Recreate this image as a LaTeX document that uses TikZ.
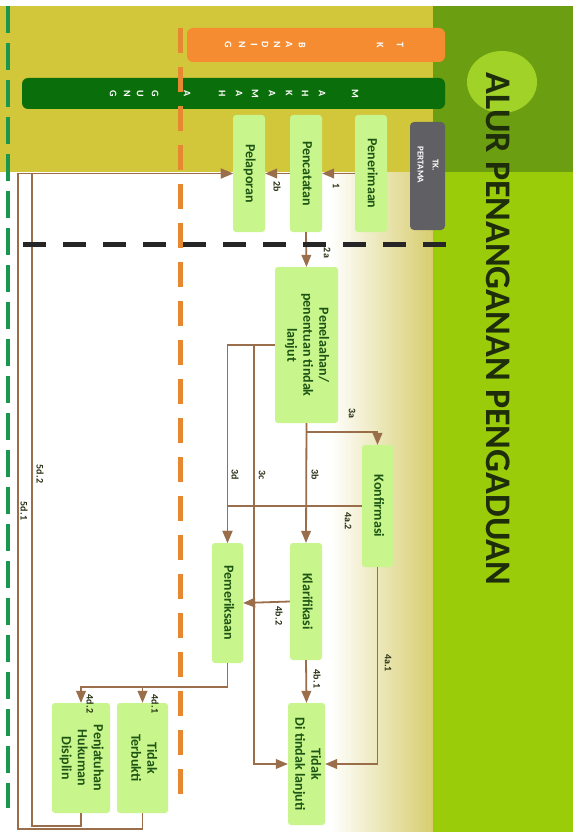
\documentclass[tikz,border=0pt]{standalone}
\usepackage{fontspec}
\setmainfont{Carlito}
\usepackage{graphicx}
\usetikzlibrary{arrows}

\definecolor{topband}{RGB}{210,198,58}
\definecolor{gradend}{RGB}{215,205,110}
\definecolor{darkband}{RGB}{108,158,18}
\definecolor{limeband}{RGB}{155,204,10}
\definecolor{glow}{RGB}{160,210,40}
\definecolor{barorange}{RGB}{245,140,50}
\definecolor{bargreen}{RGB}{10,110,10}
\definecolor{greybox}{RGB}{95,95,100}
\definecolor{boxgreen}{RGB}{200,245,140}
\definecolor{boxtext}{RGB}{30,85,20}
\definecolor{lbltext}{RGB}{40,50,20}
\definecolor{titletext}{RGB}{30,45,10}
\definecolor{brownline}{RGB}{155,110,75}
\definecolor{dashgreen}{RGB}{25,150,80}
\definecolor{dashorange}{RGB}{230,135,50}

\newcommand{\vtx}[1]{\rotatebox{-90}{\begin{tabular}{@{}c@{}}#1\end{tabular}}}

\begin{document}
\begin{tikzpicture}[x=1pt,y=-1pt,
  stepbox/.style={fill=boxgreen, rounded corners=3pt, inner sep=0pt, text=boxtext,
    font=\fontsize{14}{16}\selectfont\bfseries},
  link/.style={draw=brownline, line width=1.8pt, -triangle 45},
  lbl/.style={rotate=-90, inner sep=0pt, text=lbltext, font=\fontsize{10}{12}\selectfont\bfseries},
  letter/.style={rotate=-90, inner sep=0pt, text=white, font=\fontsize{10}{12}\selectfont\bfseries}]
\useasboundingbox (0,0) rectangle (582,832);

% background
\fill[white] (0,0) rectangle (582,832);
\fill[topband] (0,6) rectangle (433,172);
\shade[left color=white, right color=gradend] (330,172) rectangle (433,832);
\fill[darkband] (433,6) rectangle (573,172);
\fill[limeband] (433,172) rectangle (573,832);
\fill[glow] (502,82) ellipse (35pt and 31pt);
\node[rotate=-90, text=titletext, font=\fontsize{36}{40}\selectfont\bfseries] (title) at (498,329) {ALUR PENANGANAN PENGADUAN};

% levels
\node[fill=barorange, rounded corners=6pt, minimum width=258pt, minimum height=34pt, inner sep=0pt] (banding) at (316,45) {};
\foreach \c/\x in {T/400,K/380,B/302,A/289,N/277,D/265,I/254,N/242,G/228}
  \node[letter] (o\x) at (\x,45) {\c};
\node[fill=bargreen, rounded corners=6pt, minimum width=423pt, minimum height=31pt, inner sep=0pt] (agung) at (233.5,93.5) {};
\foreach \c/\x in {M/355,A/322,H/305,K/289,A/272,M/255,A/239,H/222,A/187,G/155,U/140,N/127,G/113}
  \node[letter] (g\x) at (\x,93.5) {\c};
\node[fill=greybox, rounded corners=4pt, minimum width=35pt, minimum height=108pt, inner sep=0pt] (tkp) at (427.5,176) {};
\node[text=white, inner sep=0pt, font=\fontsize{9}{10}\selectfont\bfseries] (tkpt) at (427,165) {\vtx{TK.\\[5pt]PERTAMA}};

% steps
\node[stepbox, minimum width=32pt, minimum height=117pt] (pener) at (371,173.5) {\vtx{Penerimaan}};
\node[stepbox, minimum width=32pt, minimum height=117pt] (pencat) at (306,173.5) {\vtx{Pencatatan}};
\node[stepbox, minimum width=32pt, minimum height=117pt] (pelap) at (249,173.5) {\vtx{Pelaporan}};
\node[stepbox, minimum width=63pt, minimum height=156pt] (penel) at (306.5,345) {\vtx{Penelaahan/\\penentuan tindak\\lanjut}};
\node[stepbox, minimum width=31pt, minimum height=122pt] (konf) at (377.5,506) {\vtx{Konfirmasi}};
\node[stepbox, minimum width=32pt, minimum height=117pt] (klar) at (306,601.5) {\vtx{Klarifikasi}};
\node[stepbox, minimum width=31pt, minimum height=120pt] (pemer) at (227.5,603) {\vtx{Pemeriksaan}};
\node[stepbox, minimum width=37pt, minimum height=122pt] (tidak) at (306.5,764) {\vtx{Tidak\\Di tindak lanjuti}};
\node[stepbox, minimum width=51pt, minimum height=110pt] (terb) at (142.5,758) {\vtx{Tidak\\Terbukti}};
\node[stepbox, minimum width=58pt, minimum height=110pt] (penj) at (81,758) {\vtx{Penjatuhan\\Hukuman\\Disiplin}};

% connectors
\coordinate (c3) at (254,345);
\coordinate (b1) at (18,829);
\coordinate (b2) at (32,826);
\draw[link] (pener.west) -- (pencat.east);
\draw[link] (pencat.west) -- (pelap.east);
\draw[link] (pencat.south) -- (penel.north);
\draw[link] (penel.south) -- ++(0,9) -| (konf.north);
\draw[link] (penel.south) -- (klar.north);
\draw[link] (penel.west) -- (c3) |- (tidak.west);
\draw[link] (penel.west) -| (pemer.north);
\draw[link] (konf.west) -| (pemer.north);
\draw[link] (konf.south) |- (tidak.east);
\draw[link] (klar.south) -- (tidak.north);
\draw[link] (klar.west) -- (pemer.east);
\draw[link] (pemer.south) -- ++(0,24) -| (terb.north);
\draw[link] (pemer.south) -- ++(0,24) -| (penj.north);
\draw[link] (terb.south) |- (b1) |- (pelap.west);
\draw[link] (penj.south) |- (b2) |- (pelap.west);

% numbers
\node[lbl] (n1) at (336,186) {1};
\node[lbl] (n2b) at (277,187) {2b};
\node[lbl] (n2a) at (327,253) {2a};
\node[lbl] (n3a) at (352,413) {3a};
\node[lbl] (n3b) at (315,475) {3b};
\node[lbl] (n3c) at (262,475) {3c};
\node[lbl] (n3d) at (235,475) {3d};
\node[lbl] (n4a2) at (348,521) {4a.2};
\node[lbl] (n4a1) at (388,663) {4a.1};
\node[lbl] (n4b2) at (279,616) {4b.2};
\node[lbl] (n4b1) at (317,679) {4b.1};
\node[lbl] (n4d1) at (155,704) {4d.1};
\node[lbl] (n4d2) at (90,704) {4d.2};
\node[lbl] (n5d2) at (40,474) {5d.2};
\node[lbl] (n5d1) at (24,511) {5d.1};

% dashed borders
\draw[dashgreen, line width=4pt, dash pattern=on 27pt off 10pt] (8,6) -- (8,808);
\draw[dashorange, line width=5pt, dash pattern=on 25pt off 14pt] (180,28) -- (180,808);
\draw[black!85, line width=5pt, dash pattern=on 23pt off 17pt] (23,244) -- (447,244);
\end{tikzpicture}
\end{document}
